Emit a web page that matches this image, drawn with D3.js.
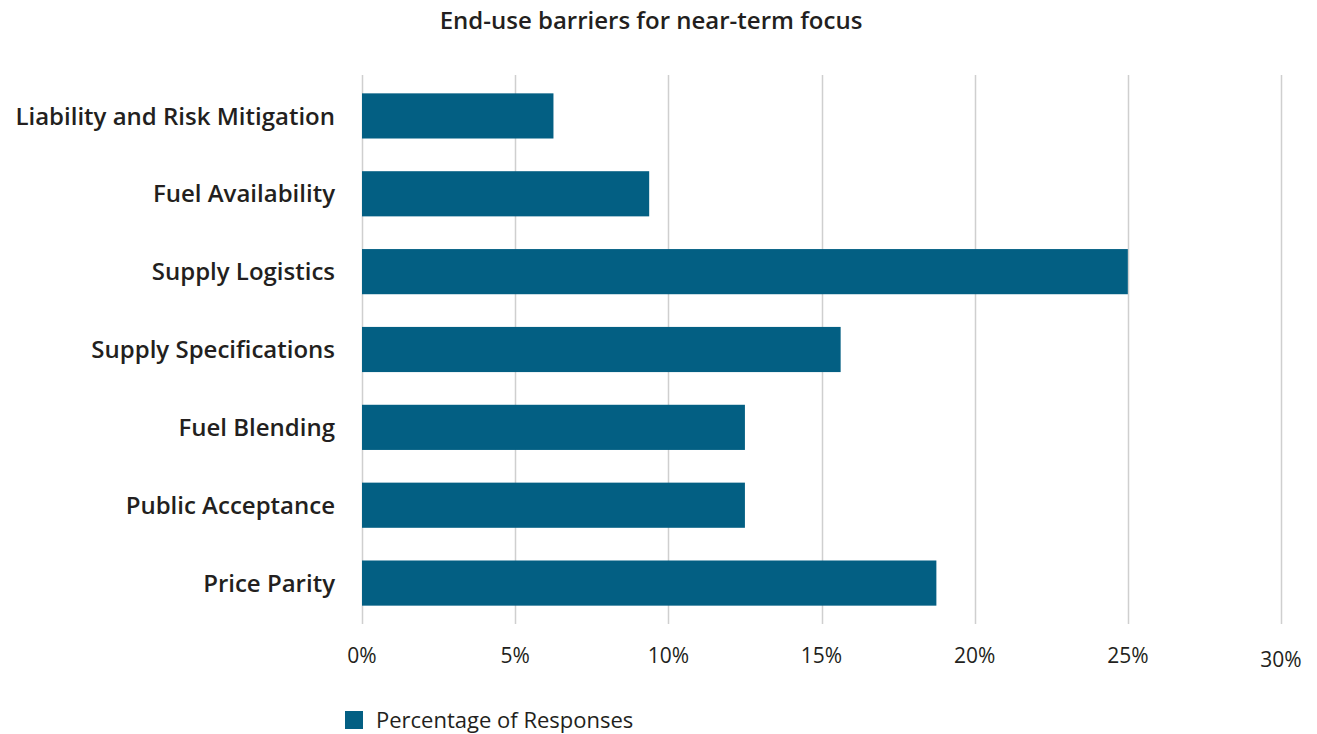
<!DOCTYPE html>
<html>
<head>
<meta charset="utf-8">
<script src="https://cdn.jsdelivr.net/npm/d3@7"></script>
<style>
  html, body { margin: 0; padding: 0; background: #fff; }
  svg { display: block; font-family: "Open Sans", sans-serif; }
</style>
</head>
<body>
<svg id="chart" width="1317" height="734"></svg>
<script>
// Survey results: share of responses per end-use barrier
const categories = [
  "Liability and Risk Mitigation",
  "Fuel Availability",
  "Supply Logistics",
  "Supply Specifications",
  "Fuel Blending",
  "Public Acceptance",
  "Price Parity"
];
const responseShare = [6.25, 9.375, 25, 15.625, 12.5, 12.5, 18.75];
const tickValues = [0, 5, 10, 15, 20, 25, 30];
const tickLabels = ["0%", "5%", "10%", "15%", "20%", "25%", "30%"];
const chartTitle = "End-use barriers for near-term focus";
const seriesName = "Percentage of Responses";

const barColor = "#035f83";
const svg = d3.select("#chart");

const x = d3.scaleLinear().domain([0, 30]).range([362, 1281]);
const y = d3.scaleBand().domain(categories).range([77, 622]).paddingInner(0.42).paddingOuter(0.21);

// vertical gridlines
svg.append("g")
  .selectAll("line")
  .data(tickValues)
  .join("line")
  .attr("x1", d => Math.round(x(d)) + 0.5)
  .attr("x2", d => Math.round(x(d)) + 0.5)
  .attr("y1", 75)
  .attr("y2", 624)
  .attr("stroke", "#cfcfcf")
  .attr("stroke-width", 1.5);

// bars
svg.append("g")
  .selectAll("rect")
  .data(categories)
  .join("rect")
  .attr("x", x(0))
  .attr("y", d => y(d))
  .attr("width", (d, i) => x(responseShare[i]) - x(0))
  .attr("height", y.bandwidth())
  .attr("fill", barColor);

// category labels
svg.append("g")
  .selectAll("text")
  .data(categories)
  .join("text")
  .attr("x", 335)
  .attr("y", d => y(d) + y.bandwidth() / 2)
  .attr("dy", "0.36em")
  .attr("text-anchor", "end")
  .attr("font-size", 24)
  .attr("font-weight", 600)
  .attr("fill", "#231f20")
  .text(d => d);

// x tick labels (the last one sits slightly lower)
svg.append("g")
  .selectAll("text")
  .data(tickValues)
  .join("text")
  .attr("x", d => x(d))
  .attr("y", (d, i) => i === tickValues.length - 1 ? 667 : 663)
  .attr("text-anchor", "middle")
  .attr("font-size", 21)
  .attr("fill", "#231f20")
  .text((d, i) => tickLabels[i]);

// title
svg.append("text")
  .attr("x", 651)
  .attr("y", 29)
  .attr("text-anchor", "middle")
  .attr("font-size", 24)
  .attr("font-weight", 600)
  .attr("fill", "#231f20")
  .text(chartTitle);

// legend
const legend = svg.append("g");
legend.append("rect")
  .attr("x", 345).attr("y", 711)
  .attr("width", 18).attr("height", 18)
  .attr("fill", barColor);
legend.append("text")
  .attr("x", 376).attr("y", 728)
  .attr("font-size", 22)
  .attr("fill", "#231f20")
  .text(seriesName);
</script>
</body>
</html>
